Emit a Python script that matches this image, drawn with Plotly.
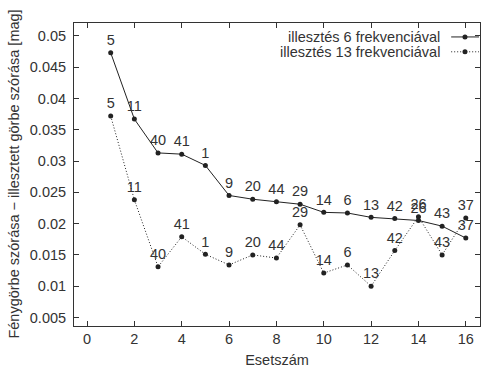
import plotly.graph_objects as go

cases = list(range(1, 17))
labels = ["5", "11", "40", "41", "1", "9", "20", "44", "29", "14", "6", "13", "42", "26", "43", "37"]
fit6 = [0.0473, 0.0367, 0.0313, 0.0311, 0.0293, 0.0245, 0.0239, 0.0235, 0.0231,
        0.0218, 0.0217, 0.0210, 0.0208, 0.0205, 0.0196, 0.0177]
fit13 = [0.0372, 0.0238, 0.0131, 0.0179, 0.0151, 0.0134, 0.0150, 0.0145, 0.0198,
         0.0121, 0.0134, 0.0100, 0.0157, 0.0211, 0.0150, 0.0209]
x_ticks = [0, 2, 4, 6, 8, 10, 12, 14, 16]
y_ticks = [0.005, 0.01, 0.015, 0.02, 0.025, 0.03, 0.035, 0.04, 0.045, 0.05]
y_ticktext = ["0.005", "0.01", "0.015", "0.02", "0.025", "0.03", "0.035", "0.04", "0.045", "0.05"]
names = ["illesztés 6 frekvenciával", "illesztés 13 frekvenciával"]

FONT = "Liberation Sans, Arial, sans-serif"
FS = 14.5
INK = "#222222"
TXT = "#333333"
DOT = "1px,2px"

fig = go.Figure()
for ys, dash, name in [(fit6, "solid", names[0]), (fit13, DOT, names[1])]:
    fig.add_trace(go.Scatter(
        x=cases, y=ys, mode="lines+markers+text", name=name,
        text=labels, textposition="top center",
        textfont=dict(family=FONT, size=FS, color=TXT),
        line=dict(color=INK, width=1, dash=dash),
        marker=dict(color=INK, size=5),
        showlegend=False, cliponaxis=False,
    ))

axis_common = dict(
    showgrid=False, zeroline=False, showline=True, linecolor="#333333", linewidth=1,
    mirror="ticks", ticks="inside", ticklen=5, tickcolor="#333333",
    tickfont=dict(family=FONT, size=FS, color=TXT),
)
fig.update_xaxes(range=[-0.55, 16.6], tickvals=x_ticks, **axis_common,
                 title=dict(text="Esetszám", font=dict(family=FONT, size=FS, color=TXT), standoff=8))
fig.update_yaxes(range=[0.00364, 0.05206], tickvals=y_ticks, ticktext=y_ticktext,
                 ticklabelstandoff=4, **axis_common)

# y-axis title
fig.add_annotation(text="Fénygörbe szórása − illesztett görbe szórása [mag]",
                   xref="paper", yref="paper", x=-0.15, y=0.5, textangle=-90,
                   showarrow=False, xanchor="center", yanchor="middle",
                   font=dict(family=FONT, size=FS, color=TXT))

# legend (text right-aligned, sample on the right)
leg_y = [0.954, 0.905]
for name, ly, dash in zip(names, leg_y, ["solid", DOT]):
    fig.add_annotation(text=name, xref="paper", yref="paper", x=0.9066, y=ly,
                       xanchor="right", yanchor="middle", showarrow=False,
                       font=dict(family=FONT, size=FS, color=TXT))
    fig.add_shape(type="line", xref="paper", yref="paper", x0=0.929, x1=0.9975, y0=ly, y1=ly,
                  line=dict(color=INK, width=1, dash=dash))
    fig.add_shape(type="circle", xref="paper", yref="paper", xsizemode="pixel", ysizemode="pixel",
                  xanchor=0.963, yanchor=ly, x0=-2.5, x1=2.5, y0=-2.5, y1=2.5,
                  fillcolor=INK, line=dict(width=0))

fig.update_layout(
    width=486, height=371, margin=dict(l=74, r=5, t=23, b=42),
    paper_bgcolor="white", plot_bgcolor="white",
    font=dict(family=FONT, size=FS, color=TXT),
)
fig.write_html("out.html")
